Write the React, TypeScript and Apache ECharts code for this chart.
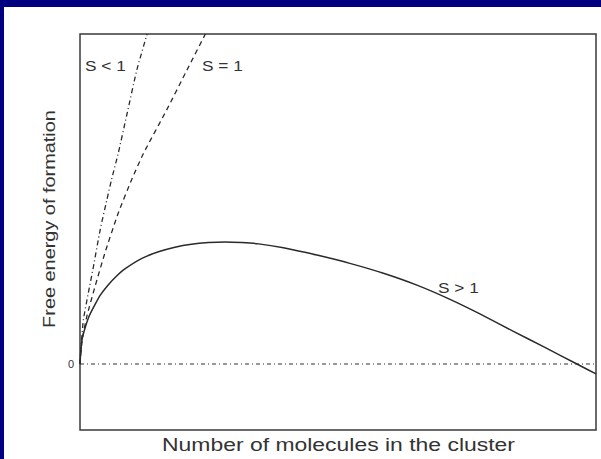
import React, { useEffect, useRef } from "react";
import * as echarts from "echarts";

// Cluster size n (arbitrary units) and free energy of formation ΔG (arbitrary units)
const supersatX = [0, 0.15, 0.4, 1, 1.8, 2.9, 4, 5.5, 7, 8.7, 12, 15.2, 18.4, 21.6, 24.9, 28.1, 31.3, 34.6, 39.4, 45.9, 52.3, 58.8, 65.3, 71.7, 77.5, 84, 90, 96.3, 100];
const supersatY = [0, 3.8, 7.5, 11, 14.6, 18, 21, 24, 26.5, 28.8, 32, 34.0, 35.4, 36.3, 36.8, 37.0, 36.8, 36.4, 35.2, 33.0, 30.5, 27.5, 23.9, 19.6, 15.2, 9.9, 5.1, 0, -3.0];

const saturatedX = [0, 0.4, 1.3, 2.9, 4.8, 7.4, 10, 12.3, 16.8, 20.7, 24.3];
const saturatedY = [0, 7, 14.3, 23.4, 33.5, 45.7, 55.8, 63.8, 77, 89, 100];

const undersatX = [0, 0.2, 0.65, 1.6, 2.6, 3.9, 5.2, 6.1, 7.4, 9, 11, 13];
const undersatY = [0, 5, 13.3, 21.4, 29.5, 40.6, 49.7, 55.8, 63.8, 75, 89, 100];

const baselineX = [0, 100];
const baselineY = [0, 0];

const yTicks = [-20, 0, 20, 40, 60, 80, 100];
const shownTick = 0;

const seriesNames = ["S < 1", "S = 1", "S > 1"];
const xTitle = "Number of molecules in the cluster";
const yTitle = "Free energy of formation";

const pairs = (xs: number[], ys: number[]) => xs.map((x, i) => [x, ys[i]]);

const FONT = "'Liberation Sans', Arial, sans-serif";
const INK = "#333333";
const LINE = "#2a2a2a";

export default function App() {
  const ref = useRef<HTMLDivElement>(null);

  useEffect(() => {
    if (!ref.current) return;
    const chart = echarts.init(ref.current, undefined, { renderer: "svg" });
    const curve = {
      type: "line",
      smooth: 0.2,
      showSymbol: false,
    };
    chart.setOption({
      animation: false,
      backgroundColor: "#ffffff",
      grid: {
        left: 80,
        right: 5,
        top: 34,
        bottom: 29,
        show: true,
        borderColor: "#3a3a3a",
        borderWidth: 1.5,
        backgroundColor: "transparent",
      },
      xAxis: {
        type: "value",
        min: 0,
        max: 100,
        axisLine: { show: false },
        axisTick: { show: false },
        axisLabel: { show: false },
        splitLine: { show: false },
      },
      yAxis: {
        type: "value",
        min: yTicks[0],
        max: yTicks[yTicks.length - 1],
        interval: 20,
        axisLine: { show: false },
        axisTick: { show: false },
        splitLine: { show: false },
        axisLabel: {
          margin: 6,
          fontSize: 11,
          fontFamily: FONT,
          color: INK,
          formatter: (v: number) => (v === shownTick ? String(v) : ""),
        },
      },
      series: [
        {
          name: "baseline",
          type: "line",
          data: pairs(baselineX, baselineY),
          showSymbol: false,
          lineStyle: { color: INK, width: 1.2, type: [4, 3, 1, 3] },
        },
        {
          ...curve,
          name: seriesNames[0],
          data: pairs(undersatX, undersatY),
          lineStyle: { color: LINE, width: 1.3, type: [5, 3, 1, 3] },
        },
        {
          ...curve,
          name: seriesNames[1],
          data: pairs(saturatedX, saturatedY),
          lineStyle: { color: LINE, width: 1.3, type: [5, 4] },
        },
        {
          ...curve,
          name: seriesNames[2],
          data: pairs(supersatX, supersatY),
          lineStyle: { color: LINE, width: 1.5 },
        },
      ],
      graphic: [
        { type: "rect", shape: { x: 0, y: 0, width: 601, height: 7 }, style: { fill: "#000080" }, z: 100 },
        { type: "rect", shape: { x: 0, y: 0, width: 4, height: 459 }, style: { fill: "#000080" }, z: 100 },
        {
          type: "text",
          x: 338.5,
          y: 444,
          scaleX: 1.24,
          style: { text: xTitle, fontSize: 18.5, fontFamily: FONT, fill: INK, align: "center", verticalAlign: "middle" },
        },
        {
          type: "text",
          x: 49.5,
          y: 219,
          rotation: Math.PI / 2,
          scaleX: 1.17,
          style: { text: yTitle, fontSize: 17, fontFamily: FONT, fill: INK, align: "center", verticalAlign: "middle" },
        },
        {
          type: "text",
          x: 85,
          y: 65,
          scaleX: 1.15,
          style: { text: seriesNames[0], fontSize: 15, fontFamily: FONT, fill: INK, align: "left", verticalAlign: "middle" },
        },
        {
          type: "text",
          x: 202,
          y: 65,
          scaleX: 1.15,
          style: { text: seriesNames[1], fontSize: 15, fontFamily: FONT, fill: INK, align: "left", verticalAlign: "middle" },
        },
        {
          type: "text",
          x: 438,
          y: 287,
          scaleX: 1.15,
          style: { text: seriesNames[2], fontSize: 15, fontFamily: FONT, fill: INK, align: "left", verticalAlign: "middle" },
        },
      ],
    });
    return () => chart.dispose();
  }, []);

  return (
    <div
      ref={ref}
      style={{ position: "fixed", left: 0, top: 0, width: 601, height: 459 }}
    />
  );
}
